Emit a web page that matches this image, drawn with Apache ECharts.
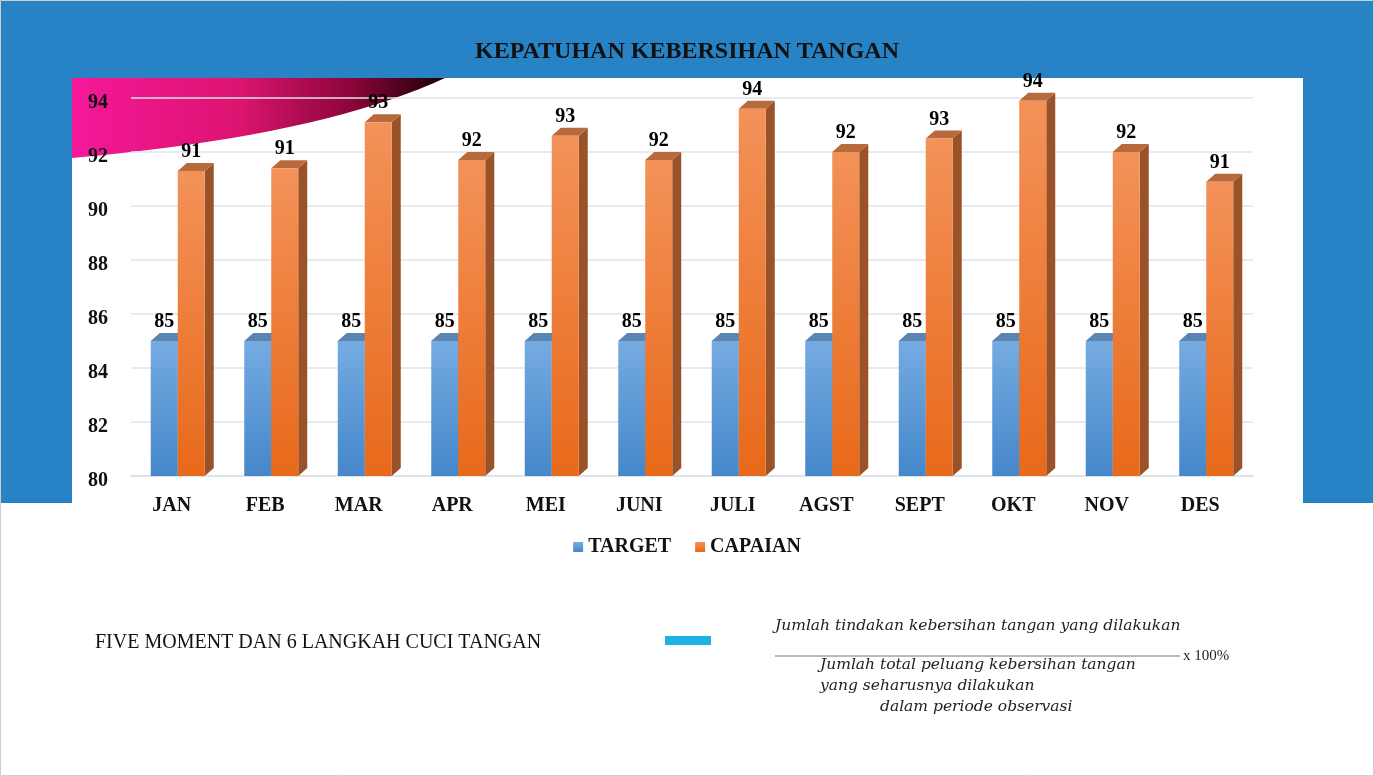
<!DOCTYPE html>
<html>
<head>
<meta charset="utf-8">
<title>Kepatuhan Kebersihan Tangan</title>
<script src="https://cdn.jsdelivr.net/npm/echarts@6/dist/echarts.min.js"></script>
<style>
    html, body { margin: 0; padding: 0; background: #fff; }
    #chart { width: 1374px; height: 776px; }
</style>
</head>
<body>
<div id="chart"></div>
<script>
// data
var months = ['JAN', 'FEB', 'MAR', 'APR', 'MEI', 'JUNI', 'JULI', 'AGST', 'SEPT', 'OKT', 'NOV', 'DES'];
var target = [85, 85, 85, 85, 85, 85, 85, 85, 85, 85, 85, 85];
var capaian = [91.3, 91.4, 93.1, 91.7, 92.6, 91.7, 93.6, 92.0, 92.5, 93.9, 92.0, 90.9];
var yTicks = [80, 82, 84, 86, 88, 90, 92, 94];

var BAR_W = 27, DX = 9, DY = 8;
var serif = '"Liberation Serif", "Times New Roman", serif';

function grad(a, b) {
    return new echarts.graphic.LinearGradient(0, 0, 0, 1, [
        {offset: 0, color: a}, {offset: 1, color: b}
    ]);
}

// side + top faces of the fake 3d bars
function faces(offset, topColor, sideColor) {
    return function (params, api) {
        var p = api.coord([api.value(0), api.value(1)]);
        var b = api.coord([api.value(0), yTicks[0]]);
        var x0 = p[0] + offset, x1 = x0 + BAR_W, t = p[1], base = b[1];
        return {
            type: 'group',
            children: [
                {type: 'polygon', shape: {points: [[x1, t], [x1 + DX, t - DY], [x1 + DX, base - DY], [x1, base]]},
                    style: {fill: sideColor}},
                {type: 'polygon', shape: {points: [[x0, t], [x0 + DX, t - DY], [x1 + DX, t - DY], [x1, t]]},
                    style: {fill: topColor}}
            ]
        };
    };
}

function pairs(arr) {
    return arr.map(function (v, i) { return [i, v]; });
}

// pink swoosh in the top-left corner (decoration only)
function swoosh() {
    var pts = [[72, 78], [445, 78]];
    for (var k = 1; k <= 20; k++) {
        var t = k / 20, u = 1 - t;
        pts.push([u * u * 445 + 2 * u * t * 320 + t * t * 72, u * u * 78 + 2 * u * t * 136 + t * t * 158]);
    }
    return pts;
}

var barLabel = {
    show: true,
    position: 'top',
    distance: 9,
    color: '#000',
    fontFamily: serif,
    fontWeight: 'bold',
    fontSize: 20,
    formatter: function (p) { return Math.round(p.value); }
};

var italic = {fontFamily: '"DejaVu Serif", serif', fontStyle: 'italic', fontSize: 15.5, fill: '#222'};

var myChart = echarts.init(document.getElementById('chart'));
var option = {
    backgroundColor: '#fff',
    animation: false,
    title: {
        text: 'KEPATUHAN KEBERSIHAN TANGAN',
        left: 'center',
        top: 35,
        textStyle: {fontFamily: serif, fontWeight: 'bold', fontSize: 24, color: '#111'}
    },
    legend: {
        data: ['TARGET', 'CAPAIAN'],
        top: 532,
        left: 'center',
        icon: 'rect',
        itemWidth: 10,
        itemHeight: 10,
        itemGap: 24,
        textStyle: {fontFamily: serif, fontWeight: 'bold', fontSize: 20, color: '#111'}
    },
    grid: {left: 131, width: 1122, top: 98, bottom: 300},
    xAxis: {
        type: 'category',
        data: months,
        axisLine: {lineStyle: {color: '#dfe3ea', width: 2}},
        axisTick: {show: false},
        axisLabel: {
            margin: 20,
            padding: [0, 12, 0, 0],
            color: '#111',
            fontFamily: serif,
            fontWeight: 'bold',
            fontSize: 20
        }
    },
    yAxis: {
        type: 'value',
        min: yTicks[0],
        max: yTicks[yTicks.length - 1],
        interval: 2,
        axisLine: {show: false},
        axisTick: {show: false},
        splitLine: {lineStyle: {color: '#dfe3ea', width: 1.5}},
        axisLabel: {
            margin: 23,
            verticalAlign: 'top',
            lineHeight: 10,
            color: '#111',
            fontFamily: serif,
            fontWeight: 'bold',
            fontSize: 20
        }
    },
    series: [
        {
            name: 'TARGET',
            type: 'bar',
            data: target,
            barWidth: BAR_W,
            barGap: '0%',
            z: 3,
            itemStyle: {color: grad('#75abe1', '#4587ca')},
            label: barLabel
        },
        {
            name: 'CAPAIAN',
            type: 'bar',
            data: capaian,
            barWidth: BAR_W,
            barGap: '0%',
            z: 3,
            itemStyle: {color: grad('#f39259', '#e8691a')},
            label: barLabel
        },
        {
            name: 'TARGET',
            type: 'custom',
            data: pairs(target),
            z: 2,
            renderItem: faces(-BAR_W, '#5a84b2', '#3f6e9e')
        },
        {
            name: 'CAPAIAN',
            type: 'custom',
            data: pairs(capaian),
            z: 2,
            renderItem: faces(0, '#b96a3d', '#9a5228')
        }
    ],
    graphic: [
        {type: 'rect', z: -1, shape: {x: 0, y: 0, width: 1374, height: 78}, style: {fill: '#2783c6'}},
        {type: 'rect', z: -1, shape: {x: 0, y: 78, width: 72, height: 425}, style: {fill: '#2783c6'}},
        {type: 'rect', z: -1, shape: {x: 1303, y: 78, width: 71, height: 425}, style: {fill: '#2783c6'}},
        {
            type: 'polygon', z: -1,
            shape: {points: swoosh()},
            style: {
                fill: new echarts.graphic.LinearGradient(0, 0, 1, 0, [
                    {offset: 0, color: '#f5189a'},
                    {offset: 0.45, color: '#dc1470'},
                    {offset: 0.75, color: '#8a0538'},
                    {offset: 1, color: '#1a0008'}
                ])
            }
        },
        {type: 'rect', shape: {x: 0.5, y: 0.5, width: 1373, height: 775}, style: {fill: null, stroke: '#cfcfcf', lineWidth: 1}},
        {type: 'text', left: 95, top: 633,
            style: {text: 'FIVE MOMENT DAN 6 LANGKAH CUCI TANGAN', fontFamily: serif, fontSize: 20, fill: '#111'}},
        {type: 'rect', shape: {x: 665, y: 636, width: 46, height: 9}, style: {fill: '#1fb0e6'}},
        {type: 'text', left: 775, top: 618,
            style: Object.assign({text: 'Jumlah tindakan kebersihan tangan yang dilakukan'}, italic)},
        {type: 'line', shape: {x1: 775, y1: 656, x2: 1180, y2: 656}, style: {stroke: '#8b6a6a', lineWidth: 1}},
        {type: 'text', left: 1183, top: 649,
            style: {text: 'x 100%', fontFamily: serif, fontSize: 15, fill: '#222'}},
        {type: 'text', left: 820, top: 657,
            style: Object.assign({text: 'Jumlah total peluang kebersihan tangan'}, italic)},
        {type: 'text', left: 820, top: 678,
            style: Object.assign({text: 'yang seharusnya dilakukan'}, italic)},
        {type: 'text', left: 880, top: 699,
            style: Object.assign({text: 'dalam periode observasi'}, italic)}
    ]
};
myChart.setOption(option);
window.onresize = function () {
    myChart.resize();
};
</script>
</body>
</html>
